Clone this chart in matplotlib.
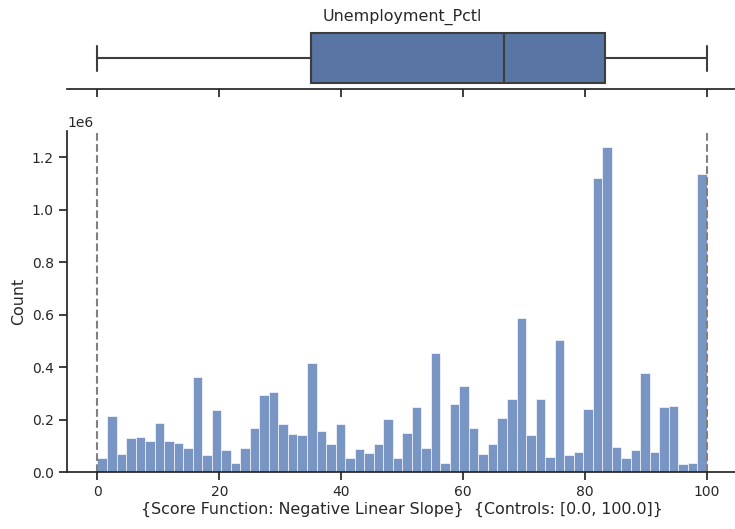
import numpy as np
import matplotlib
matplotlib.use("Agg")
import matplotlib.pyplot as plt
import seaborn as sns

# ---- data ----
bin_start = 0.0
bin_stop = 100.0
n_bins = 64
counts = [
    0.052, 0.213, 0.067, 0.130, 0.133, 0.118, 0.188, 0.118, 0.112, 0.090,
    0.361, 0.064, 0.236, 0.083, 0.036, 0.093, 0.166, 0.293, 0.305, 0.182,
    0.145, 0.141, 0.414, 0.155, 0.105, 0.182, 0.052, 0.086, 0.071, 0.108,
    0.202, 0.052, 0.149, 0.248, 0.090, 0.452, 0.036, 0.258, 0.328, 0.166,
    0.067, 0.105, 0.207, 0.277, 0.587, 0.141, 0.277, 0.057, 0.503, 0.065,
    0.076, 0.240, 1.121, 1.238, 0.094, 0.053, 0.084, 0.378, 0.076, 0.248,
    0.251, 0.032, 0.036, 1.135,
]
counts = [c * 1e6 for c in counts]

box_q1 = 35.0
box_median = 66.7
box_q3 = 83.3
box_whislo = 0.0
box_whishi = 100.0
controls = [0.0, 100.0]

title = "Unemployment_Pctl"
xlabel = "{Score Function: Negative Linear Slope}  {Controls: [0.0, 100.0]}"
ylabel = "Count"

# ---- style ----
sns.set_theme(style="ticks", context="notebook")
plt.rcParams["font.family"] = ["DejaVu Sans"]

fig = plt.figure(figsize=(7.35, 5.29), dpi=100)
W, H = 735.0, 529.0
left = 67.0 / W
width = 670.5 / W

ax_box = fig.add_axes([left, (H - 89.3) / H, width, 62.5 / H])
ax_hist = fig.add_axes([left, (H - 472.0) / H, width, 341.0 / H], sharex=ax_box)

# boxplot
stats = [dict(med=box_median, q1=box_q1, q3=box_q3,
              whislo=box_whislo, whishi=box_whishi, fliers=[])]
dark = "#3d3d3d"
ax_box.bxp(stats, positions=[0], widths=0.8, vert=False, patch_artist=True,
           showfliers=False,
           boxprops=dict(facecolor="#5875a4", edgecolor=dark, linewidth=1.5),
           medianprops=dict(color=dark, linewidth=1.5),
           whiskerprops=dict(color=dark, linewidth=1.5),
           capprops=dict(color=dark, linewidth=1.5),
           capwidths=0.4)
ax_box.set_ylim(0.5, -0.5)
ax_box.set_yticks([])
ax_box.set_title(title, fontsize=11.4, pad=4, color="#262626")
for s in ["left", "right", "top"]:
    ax_box.spines[s].set_visible(False)
ax_box.tick_params(axis="x", labelbottom=False, length=6, width=1.25)
ax_box.spines["bottom"].set_linewidth(1.25)

# histogram
edges = np.linspace(bin_start, bin_stop, n_bins + 1)
ax_hist.bar(edges[:-1], counts, width=np.diff(edges), align="edge",
            color="#4c72b0", alpha=0.75, edgecolor="white", linewidth=0.6)
for c in controls:
    ax_hist.axvline(c, color="gray", linestyle="--", linewidth=1.5)
ax_hist.set_xlim(-5, 105)
ax_hist.set_ylim(0, max(counts) * 1.05)
ax_hist.set_xticks([0, 20, 40, 60, 80, 100])
ax_hist.set_xlabel(xlabel, fontsize=11.4, labelpad=2)
ax_hist.set_ylabel(ylabel, fontsize=11.4)
ax_hist.tick_params(axis="both", labelsize=10, length=6, width=1.25)
for s in ["right", "top"]:
    ax_hist.spines[s].set_visible(False)
for s in ["left", "bottom"]:
    ax_hist.spines[s].set_linewidth(1.25)
ax_hist.yaxis.get_offset_text().set_fontsize(10)

fig.savefig("out.png", dpi=100)
